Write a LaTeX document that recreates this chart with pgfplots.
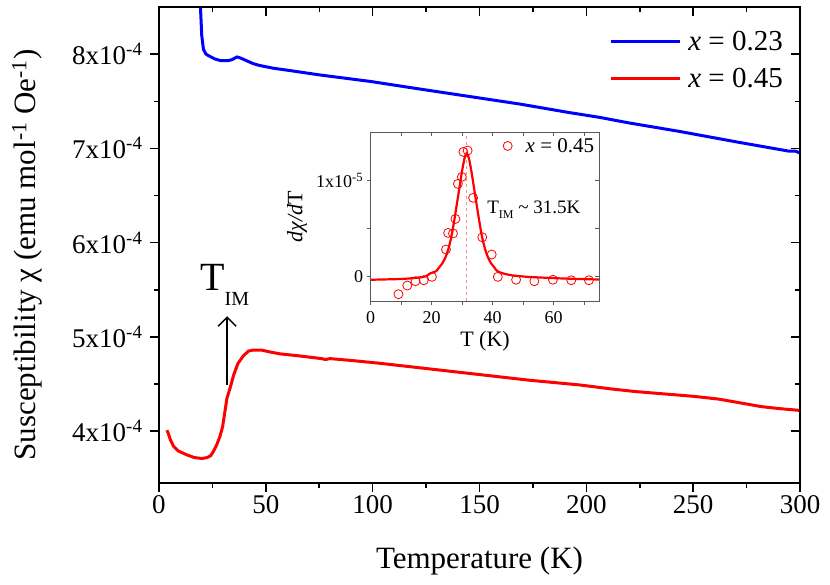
\documentclass[border=0pt]{standalone}
\usepackage{fontspec}
\setmainfont{Liberation Serif}
\usepackage{pgfplots}
\pgfplotsset{compat=1.18}
\usetikzlibrary{arrows.meta}
\newcommand{\fs}[1]{\fontsize{#1pt}{#1pt}\selectfont}
\definecolor{myblue}{RGB}{0,0,255}
\definecolor{myred}{RGB}{255,0,0}
\pgfplotsset{circlegend/.style={legend image code/.code={\path[draw=none,fill=none] (0pt,0pt) -- (22pt,0pt); \draw[##1, only marks] plot coordinates {(6pt,0pt)};}}}
\begin{document}
\begin{tikzpicture}
\useasboundingbox (-159pt,-101pt) rectangle (671pt,483pt);
% ---------------- main axis
\begin{axis}[
  at={(0pt,0pt)}, anchor=south west, scale only axis,
  width=641pt, height=476pt,
  xmin=0, xmax=300, ymin=3.45, ymax=8.5,
  xtick={0,50,...,300}, minor x tick num=1,
  ytick={4,5,6,7,8},
  yticklabels={4x10\textsuperscript{-4},5x10\textsuperscript{-4},6x10\textsuperscript{-4},7x10\textsuperscript{-4},8x10\textsuperscript{-4}},
  minor y tick num=1,
  xtick pos=left, ytick pos=left, tick align=outside,
  major tick length=9pt, minor tick length=5pt,
  axis line style={line width=1.5pt},
  tick style={line width=1.5pt, black},
  tick label style={font=\fs{27}},
  yticklabel style={xshift=-4pt},
  /pgf/number format/assume math mode=true,
  xlabel={Temperature (K)},
  ylabel={Susceptibility χ (emu mol\textsuperscript{-1} Oe\textsuperscript{-1})},
  xlabel style={font=\fs{31}, at={(axis description cs:0.5,-0.164)}, anchor=center},
  ylabel style={font=\fs{31}, at={(axis description cs:-0.206,0.479)}, anchor=center},
  legend style={draw=none, fill=none, at={(1,1)}, anchor=north east,
     xshift=-12pt, yshift=-20pt, font=\fs{29}, row sep=12pt,
     cells={anchor=west}},
  legend image code/.code={\draw[#1] (0pt,0pt) -- (69pt,0pt); \path (74pt,0pt);},
]
\addplot[myblue, line width=3pt] coordinates {
(19.2,8.6) (19.6,8.4) (20.0,8.2) (20.8,8.05) (22,8.00) (23.5,7.98) (26,7.95)
(29,7.93) (32,7.93) (34,7.94) (36.5,7.97) (38,7.96) (41,7.93) (44,7.90)
(47,7.88) (53.6,7.85) (60,7.83) (75,7.78) (99,7.71) (122,7.63) (145.5,7.55)
(169,7.47) (192,7.38) (206,7.33) (220,7.27) (243.6,7.18) (270,7.07)
(290,6.99) (295,6.97) (298,6.97) (300,6.95)
};
\addlegendentry{\textit{x} = 0.23}
\addplot[myred, line width=3pt] coordinates {
(3.7,4.01) (4.3,3.98) (5.3,3.91) (6.8,3.84) (9,3.79) (12.9,3.75) (16.5,3.72)
(20.1,3.71) (22.5,3.72) (24.2,3.74) (25.6,3.79) (27.1,3.86) (28.6,3.95)
(29.8,4.05) (30.8,4.20) (31.8,4.35) (33.3,4.46) (35,4.60) (37,4.72)
(39.5,4.80) (41.9,4.85) (44,4.86) (48,4.86) (52,4.84) (56.7,4.82) (65,4.80)
(76,4.77) (78,4.76) (80,4.77) (90,4.75) (103.4,4.72) (126.8,4.66)
(150.2,4.60) (173.5,4.54) (197,4.49) (210.9,4.45) (223,4.42) (250,4.37)
(262,4.34) (272,4.30) (282,4.26) (290,4.24) (300,4.22)
};
\addlegendentry{\textit{x} = 0.45}
\draw[line width=1.5pt, -{Straight Barb[length=9pt,width=18pt,line width=1.5pt]}]
  (axis cs:31.9,4.49) -- (axis cs:31.9,5.22);
\node[anchor=base west, inner sep=0pt] at (axis cs:19.2,5.495)
  {\fs{40}T\raisebox{-15pt}{\fs{20}IM}};
\end{axis}
% ---------------- main axis: top/right inward ticks
\begin{axis}[
  at={(0pt,0pt)}, anchor=south west, scale only axis,
  width=641pt, height=476pt,
  xmin=0, xmax=300, ymin=3.45, ymax=8.5,
  xtick={0,50,...,300}, minor x tick num=1,
  ytick={4,5,6,7,8}, minor y tick num=1,
  xticklabels={}, yticklabels={},
  xtick pos=right, ytick pos=right, tick align=inside,
  major tick length=9pt, minor tick length=5pt,
  axis line style={line width=1.5pt},
  tick style={line width=1.5pt, black},
]
\end{axis}
% ---------------- inset
\begin{axis}[
  at={(211.7pt,182pt)}, anchor=south west, scale only axis,
  width=228.6pt, height=169pt,
  xmin=0, xmax=75, ymin=-0.25, ymax=1.5,
  xtick={0,20,40,60}, minor xtick={10,30,50,70},
  ytick={0,1}, yticklabels={0,1x10\textsuperscript{-5}}, minor ytick={0.5},
  xtick pos=left, ytick pos=left, tick align=outside,
  major tick length=4pt, minor tick length=4pt,
  axis line style={line width=0.8pt, black!65},
  tick style={line width=0.8pt, black!65},
  tick label style={font=\fs{18}},
  xticklabel style={yshift=-3pt},
  /pgf/number format/assume math mode=true,
  xlabel={T (K)}, ylabel={\textit{dχ/d}T},
  label style={font=\fs{22}},
  xlabel style={at={(axis description cs:0.5,-0.235)}, anchor=center},
  ylabel style={at={(axis description cs:-0.322,0.497)}, anchor=center},
  legend style={draw=none, fill=none, at={(1,1)}, anchor=north east,
     xshift=0pt, yshift=-2pt, font=\fs{21}},
]
\addplot[myred!45, line width=0.6pt, dashed, forget plot] coordinates {(31.5,-0.25) (31.5,1.5)};
\addplot[only marks, mark=o, mark size=4.5pt, myred, mark options={line width=0.8pt},
  circlegend] coordinates {
(9.1,-0.18) (12.0,-0.09) (14.7,-0.045) (17.4,-0.035) (20.1,0.0) (24.7,0.283)
(25.4,0.455) (27.0,0.449) (27.8,0.60) (28.6,0.963) (29.9,1.035) (30.4,1.294)
(31.8,1.308) (33.6,0.818) (36.6,0.41) (39.7,0.231) (41.7,0.0) (47.7,-0.03)
(53.7,-0.045) (59.8,-0.03) (65.8,-0.035) (71.6,-0.035)
};
\addlegendentry{\textit{x} = 0.45}
\addplot[myred, line width=2.2pt, smooth, tension=0.4, forget plot] coordinates {
(0,-0.03) (10,-0.022) (15,-0.01) (18,0.005) (19.5,0.035) (21.5,0.06)
(22.5,0.10) (23.5,0.14) (24.5,0.20) (25.5,0.29) (26.5,0.42) (27.5,0.60)
(28,0.70) (29,0.90) (30,1.10) (30.8,1.23) (31.5,1.28) (32.2,1.23) (33,1.10)
(34,0.90) (35,0.70) (35.5,0.60) (36.5,0.42) (37.5,0.29) (38.5,0.20)
(39.5,0.14) (40.5,0.10) (41.5,0.06) (43.5,0.035) (46.5,0.015) (51.5,0.0)
(61.5,-0.015) (71.5,-0.025) (75,-0.027)
};
\node[anchor=base west, inner sep=0pt, font=\fs{19}] at (axis cs:38.2,0.66)
  {T\raisebox{-5pt}{\fs{12}IM} \textasciitilde\ 31.5K};
\end{axis}
% ---------------- inset top/right inward ticks
\begin{axis}[
  at={(211.7pt,182pt)}, anchor=south west, scale only axis,
  width=228.6pt, height=169pt,
  xmin=0, xmax=75, ymin=-0.25, ymax=1.5,
  xtick={0,20,40,60}, minor xtick={10,30,50,70},
  ytick={0,1}, minor ytick={0.5},
  xticklabels={}, yticklabels={},
  xtick pos=right, ytick pos=right, tick align=inside,
  major tick length=4pt, minor tick length=4pt,
  axis line style={line width=0.8pt, black!65},
  tick style={line width=0.8pt, black!65},
]
\end{axis}
\end{tikzpicture}
\end{document}
